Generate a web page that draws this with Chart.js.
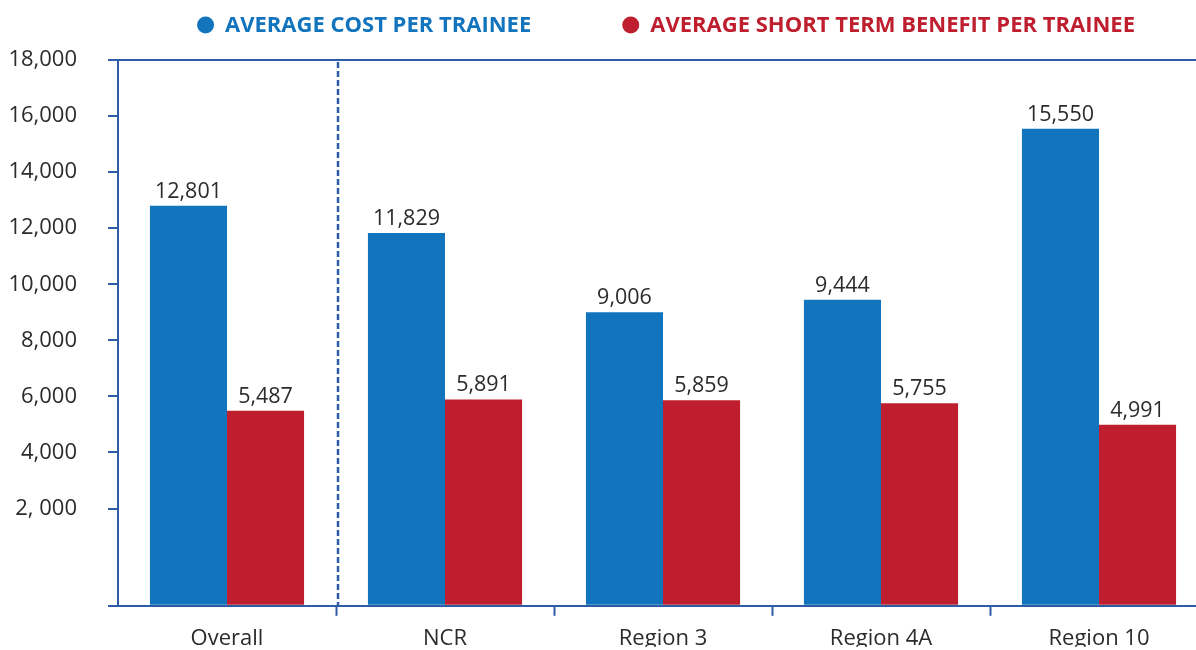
<!DOCTYPE html>
<html>
<head>
<meta charset="utf-8">
<script src="https://cdn.jsdelivr.net/npm/chart.js@4.4.1/dist/chart.umd.min.js"></script>
<style>
  html, body { margin: 0; padding: 0; background: #fff; overflow: hidden; }
  #wrap { width: 1212px; height: 650px; position: relative; }
</style>
</head>
<body>
<div id="wrap"><canvas id="chart"></canvas></div>
<script>
// data
const categories = ['Overall', 'NCR', 'Region 3', 'Region 4A', 'Region 10'];
const costPerTrainee = [12801, 11829, 9006, 9444, 15550];
const benefitPerTrainee = [5487, 5891, 5859, 5755, 4991];
const yTickValues = [2000, 4000, 6000, 8000, 10000, 12000, 14000, 16000, 18000];
const yTickLabels = ['2, 000', '4,000', '6,000', '8,000', '10,000', '12,000', '14,000', '16,000', '18,000'];

const BLUE = '#1174bd';
const RED = '#be1e2d';
const AXIS = '#2d5ba6';
const TEXT = '#2b2b2b';
const FONT = '"Open Sans", "Noto Sans", sans-serif';
const Y_MIN = -1470; // bottom of the plot sits below the first labelled tick

// value labels above bars
const valueLabels = {
    id: 'valueLabels',
    afterDatasetsDraw(chart) {
        const ctx = chart.ctx;
        ctx.save();
        ctx.font = '21.5px ' + FONT;
        ctx.fillStyle = TEXT;
        ctx.textAlign = 'center';
        ctx.textBaseline = 'alphabetic';
        chart.data.datasets.forEach((ds, di) => {
            chart.getDatasetMeta(di).data.forEach((bar, i) => {
                ctx.fillText(ds.data[i].toLocaleString('en-US'), bar.x, bar.y - 8);
            });
        });
        ctx.restore();
    }
};

// dashed separator between Overall and the regions
const separator = {
    id: 'separator',
    beforeDatasetsDraw(chart) {
        const x = chart.scales.x;
        const px = (x.getPixelForValue(0) + x.getPixelForValue(1)) / 2 + 2;
        const { top, bottom } = chart.chartArea;
        const ctx = chart.ctx;
        ctx.save();
        ctx.strokeStyle = AXIS;
        ctx.lineWidth = 2.5;
        ctx.setLineDash([6, 3]);
        ctx.beginPath();
        ctx.moveTo(px, top + 2);
        ctx.lineTo(px, bottom);
        ctx.stroke();
        ctx.restore();
    }
};

// legend drawn at top, centred over the plot
const topLegend = {
    id: 'topLegend',
    afterDraw(chart) {
        const ctx = chart.ctx;
        const { left, right } = chart.chartArea;
        const r = 8.5, gapDot = 11, gapItem = 91, y = 25;
        ctx.save();
        ctx.font = 'bold 22px ' + FONT;
        const items = chart.data.datasets.map(ds => ({ text: ds.label, color: ds.backgroundColor, w: ctx.measureText(ds.label).width }));
        const total = items.reduce((s, it) => s + 2 * r + gapDot + it.w, 0) + gapItem * (items.length - 1);
        let x = (left + right) / 2 + 3 - total / 2;
        ctx.textBaseline = 'middle';
        items.forEach(it => {
            ctx.fillStyle = it.color;
            ctx.beginPath();
            ctx.arc(x + r, y, r, 0, Math.PI * 2);
            ctx.fill();
            x += 2 * r + gapDot;
            ctx.fillText(it.text, x, y + 1);
            x += it.w + gapItem;
        });
        ctx.restore();
    }
};

new Chart(document.getElementById('chart'), {
    type: 'bar',
    data: {
        labels: categories,
        datasets: [
            { label: 'AVERAGE COST PER TRAINEE', data: costPerTrainee, backgroundColor: BLUE, base: Y_MIN },
            { label: 'AVERAGE SHORT TERM BENEFIT PER TRAINEE', data: benefitPerTrainee, backgroundColor: RED, base: Y_MIN }
        ]
    },
    options: {
        responsive: true,
        maintainAspectRatio: false,
        animation: false,
        datasets: { bar: { categoryPercentage: 0.707, barPercentage: 1, borderWidth: 0 } },
        layout: { padding: { top: 60, right: 4, left: 0, bottom: 0 } },
        plugins: { legend: { display: false }, tooltip: { enabled: false } },
        scales: {
            x: {
                grid: {
                    offset: true,
                    drawOnChartArea: false,
                    tickLength: 10,
                    tickWidth: 2,
                    tickColor: c => c.index === 0 ? 'rgba(0,0,0,0)' : AXIS
                },
                border: { color: AXIS, width: 2 },
                ticks: { color: TEXT, font: { family: FONT, size: 22 }, padding: 10 },
                afterFit: s => { s.height = 41; }
            },
            y: {
                min: Y_MIN,
                max: 18000,
                afterBuildTicks: s => { s.ticks = [Y_MIN, ...yTickValues].map(v => ({ value: v })); },
                ticks: {
                    color: TEXT,
                    font: { family: FONT, size: 22 },
                    padding: 31,
                    callback: v => { const i = yTickValues.indexOf(v); return i < 0 ? '' : yTickLabels[i]; }
                },
                grid: {
                    drawOnChartArea: true,
                    color: c => (c.tick && c.tick.value === 18000) ? AXIS : 'rgba(0,0,0,0)',
                    lineWidth: 2,
                    tickLength: 10,
                    tickWidth: 2,
                    tickColor: AXIS
                },
                border: { color: AXIS, width: 2 },
                afterFit: s => { s.width = 118; }
            }
        }
    },
    plugins: [separator, valueLabels, topLegend]
});
</script>
</body>
</html>
